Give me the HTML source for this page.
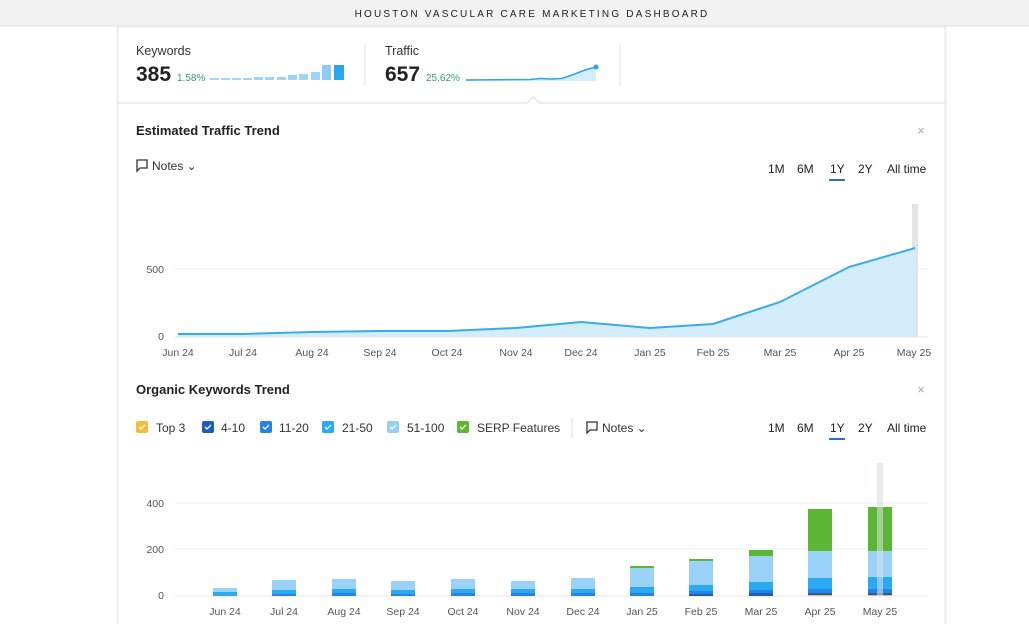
<!DOCTYPE html>
<html><head><meta charset="utf-8"><style>
html,body{margin:0;padding:0;background:#fff;width:1029px;height:624px;overflow:hidden;font-family:"Liberation Sans",sans-serif}
</style></head><body>
<svg width="1029" height="624" xmlns="http://www.w3.org/2000/svg" font-family="Liberation Sans, sans-serif">
<rect x="0" y="0" width="1029" height="26" fill="#f2f2f2"/>
<line x1="0" y1="26" x2="1029" y2="26" stroke="#e2e2e2"/>
<text x="532" y="17" text-anchor="middle" font-size="10" letter-spacing="2.2" fill="#222">HOUSTON VASCULAR CARE MARKETING DASHBOARD</text>
<rect x="116" y="27" width="2" height="600" fill="#f4f4f4"/>
<rect x="945" y="27" width="2" height="600" fill="#f4f4f4"/>
<rect x="118" y="27" width="827" height="610" fill="#fff" stroke="#e8e8e8"/>
<!-- summary -->
<text x="136" y="55" font-size="12.5" fill="#333">Keywords</text>
<text x="136" y="81" font-size="21" font-weight="bold" fill="#222">385</text>
<text x="177" y="81" font-size="10" fill="#3a9a6a">1.58%</text>
<g fill="#9fd3f7">
<rect x="210" y="78" width="9" height="2"/><rect x="221" y="78" width="9" height="2"/><rect x="232" y="78" width="9" height="2"/><rect x="243" y="78" width="9" height="2"/><rect x="254" y="77" width="9" height="3"/><rect x="265" y="77" width="9" height="3"/><rect x="277" y="77" width="9" height="3"/><rect x="288" y="75" width="9" height="5"/><rect x="299" y="74" width="9" height="6"/><rect x="311" y="72" width="9" height="8"/><rect x="322" y="65" width="9" height="15" fill="#8dcaf5"/></g>
<rect x="334" y="65" width="10" height="15" fill="#2aa5ee"/>
<line x1="365" y1="43" x2="365" y2="86" stroke="#e2e2e2"/>
<text x="385" y="55" font-size="12.5" fill="#333">Traffic</text>
<text x="385" y="81" font-size="21" font-weight="bold" fill="#222">657</text>
<text x="426" y="81" font-size="10" fill="#3a9a6a">25.62%</text>
<path d="M466 80 L530 79.5 L540 78.5 L550 79 L562 78.5 L572 75 L585 70 L596 67 L596 81 L466 81Z" fill="#d6eefc"/>
<path d="M466 80 L530 79.5 L540 78.5 L550 79 L562 78.5 L572 75 L585 70 L596 67" fill="none" stroke="#2aa5ee" stroke-width="1.5"/>
<circle cx="596" cy="67" r="2.5" fill="#2aa5ee"/>
<line x1="620" y1="43" x2="620" y2="86" stroke="#e2e2e2"/>
<path d="M118 103 L527 103 L533 97 L539 103 L945 103" fill="none" stroke="#ddd"/>
<!-- traffic -->
<text x="136" y="135" font-size="13" font-weight="bold" fill="#222">Estimated Traffic Trend</text>
<text x="921" y="135" font-size="13" fill="#aaa" text-anchor="middle">×</text>
<path d="M137 160 h10 v8 h-7 l-3 3 z" fill="none" stroke="#333" stroke-width="1.3"/>
<text x="152" y="170" font-size="12" fill="#333">Notes ⌄</text>
<g font-size="12" fill="#222"><text x="768" y="173">1M</text><text x="797" y="173">6M</text><text x="830" y="173">1Y</text><text x="858" y="173">2Y</text><text x="887" y="173">All time</text></g>
<rect x="829" y="179" width="16" height="2" fill="#2a6fc7"/>
<line x1="175" y1="269" x2="928" y2="269" stroke="#eee"/>
<line x1="175" y1="337" x2="928" y2="337" stroke="#e4e4e4"/>
<text x="164" y="273" font-size="10.5" fill="#555" text-anchor="end">500</text>
<text x="164" y="340" font-size="10.5" fill="#555" text-anchor="end">0</text>
<rect x="912" y="204" width="6" height="133" fill="#e2e4e8"/>
<path d="M178 334 L243 334 L312 332 L380 331 L447 331 L516 328 L581 322 L650 328 L713 324 L780 302 L849 267 L915 248 L915 337 L178 337Z" fill="#d3edfc"/>
<path d="M178 334 L243 334 L312 332 L380 331 L447 331 L516 328 L581 322 L650 328 L713 324 L780 302 L849 267 L915 248" fill="none" stroke="#3aaaf0" stroke-width="2"/>
<g font-size="10.5" fill="#555" text-anchor="middle"><text x="178" y="356">Jun 24</text><text x="243" y="356">Jul 24</text><text x="312" y="356">Aug 24</text><text x="380" y="356">Sep 24</text><text x="447" y="356">Oct 24</text><text x="516" y="356">Nov 24</text><text x="581" y="356">Dec 24</text><text x="650" y="356">Jan 25</text><text x="713" y="356">Feb 25</text><text x="780" y="356">Mar 25</text><text x="849" y="356">Apr 25</text><text x="914" y="356">May 25</text></g>
<!-- keywords -->
<text x="136" y="394" font-size="13" font-weight="bold" fill="#222">Organic Keywords Trend</text>
<text x="921" y="394" font-size="13" fill="#aaa" text-anchor="middle">×</text>
<g font-size="12" fill="#333">
<rect x="136" y="421" width="12" height="12" rx="2" fill="#f5bd3c"/><text x="156" y="432">Top 3</text>
<rect x="202" y="421" width="12" height="12" rx="2" fill="#1b5fb8"/><text x="221" y="432">4-10</text>
<rect x="260" y="421" width="12" height="12" rx="2" fill="#2684e8"/><text x="279" y="432">11-20</text>
<rect x="322" y="421" width="12" height="12" rx="2" fill="#2aaaf2"/><text x="342" y="432">21-50</text>
<rect x="387" y="421" width="12" height="12" rx="2" fill="#95cff8"/><text x="407" y="432">51-100</text>
<rect x="457" y="421" width="12" height="12" rx="2" fill="#5cb734"/><text x="477" y="432">SERP Features</text>
<g fill="none" stroke="#fff" stroke-width="1.3"><path d="M139 427 l2 2 l4 -4"/><path d="M205 427 l2 2 l4 -4"/><path d="M263 427 l2 2 l4 -4"/><path d="M325 427 l2 2 l4 -4"/><path d="M390 427 l2 2 l4 -4"/><path d="M460 427 l2 2 l4 -4"/></g>
<line x1="572" y1="418" x2="572" y2="438" stroke="#ddd"/>
<path d="M587 422 h10 v8 h-7 l-3 3 z" fill="none" stroke="#333" stroke-width="1.3"/>
<text x="602" y="432">Notes ⌄</text>
</g>
<g font-size="12" fill="#222"><text x="768" y="432">1M</text><text x="797" y="432">6M</text><text x="830" y="432">1Y</text><text x="858" y="432">2Y</text><text x="887" y="432">All time</text></g>
<rect x="829" y="438" width="16" height="2" fill="#2a6fc7"/>
<line x1="175" y1="503" x2="928" y2="503" stroke="#eee"/>
<line x1="175" y1="549" x2="928" y2="549" stroke="#eee"/>
<line x1="175" y1="596" x2="928" y2="596" stroke="#e4e4e4"/>
<g font-size="10.5" fill="#555" text-anchor="end"><text x="164" y="507">400</text><text x="164" y="553">200</text><text x="164" y="599">0</text></g>
<g id="bars">
<rect x="213" y="588" width="24" height="8" fill="#9bd2f9"/><rect x="213" y="592" width="24" height="4" fill="#2aaaf2"/>
<rect x="272" y="580" width="24" height="16" fill="#9bd2f9"/><rect x="272" y="590" width="24" height="6" fill="#2aaaf2"/><rect x="272" y="594" width="24" height="2" fill="#2684e8"/>
<rect x="332" y="579" width="24" height="17" fill="#9bd2f9"/><rect x="332" y="589" width="24" height="7" fill="#2aaaf2"/><rect x="332" y="593" width="24" height="3" fill="#2684e8"/>
<rect x="391" y="581" width="24" height="15" fill="#9bd2f9"/><rect x="391" y="590" width="24" height="6" fill="#2aaaf2"/><rect x="391" y="594" width="24" height="2" fill="#2684e8"/>
<rect x="451" y="579" width="24" height="17" fill="#9bd2f9"/><rect x="451" y="589" width="24" height="7" fill="#2aaaf2"/><rect x="451" y="593" width="24" height="3" fill="#2684e8"/>
<rect x="511" y="581" width="24" height="15" fill="#9bd2f9"/><rect x="511" y="589" width="24" height="7" fill="#2aaaf2"/><rect x="511" y="593" width="24" height="3" fill="#2684e8"/>
<rect x="571" y="578" width="24" height="18" fill="#9bd2f9"/><rect x="571" y="589" width="24" height="7" fill="#2aaaf2"/><rect x="571" y="593" width="24" height="3" fill="#2684e8"/>
<rect x="630" y="567" width="24" height="29" fill="#9bd2f9"/><rect x="630" y="566" width="24" height="2" fill="#5cb734"/><rect x="630" y="587" width="24" height="9" fill="#2aaaf2"/><rect x="630" y="593" width="24" height="3" fill="#2684e8"/>
<rect x="689" y="560" width="24" height="36" fill="#9bd2f9"/><rect x="689" y="559" width="24" height="2" fill="#5cb734"/><rect x="689" y="585" width="24" height="11" fill="#2aaaf2"/><rect x="689" y="591" width="24" height="5" fill="#2684e8"/><rect x="689" y="594" width="24" height="2" fill="#1b5fb8"/>
<rect x="749" y="550" width="24" height="46" fill="#5cb734"/><rect x="749" y="556" width="24" height="40" fill="#9bd2f9"/><rect x="749" y="582" width="24" height="14" fill="#2aaaf2"/><rect x="749" y="590" width="24" height="6" fill="#2684e8"/><rect x="749" y="593" width="24" height="3" fill="#1b5fb8"/>
<rect x="808" y="509" width="24" height="87" fill="#5cb734"/><rect x="808" y="551" width="24" height="45" fill="#9bd2f9"/><rect x="808" y="578" width="24" height="18" fill="#2aaaf2"/><rect x="808" y="589" width="24" height="7" fill="#2684e8"/><rect x="808" y="593" width="24" height="2" fill="#1b5fb8"/><rect x="808" y="595" width="24" height="1" fill="#f5bd3c"/>
<rect x="868" y="507" width="24" height="89" fill="#5cb734"/><rect x="868" y="551" width="24" height="45" fill="#9bd2f9"/><rect x="868" y="577" width="24" height="19" fill="#2aaaf2"/><rect x="868" y="589" width="24" height="7" fill="#2684e8"/><rect x="868" y="593" width="24" height="2" fill="#1b5fb8"/><rect x="868" y="595" width="24" height="1" fill="#f5bd3c"/>
</g>
<rect x="877" y="463" width="6" height="133" fill="#d8dce2" opacity="0.6"/>
<g font-size="10.5" fill="#555" text-anchor="middle"><text x="225" y="615">Jun 24</text><text x="284" y="615">Jul 24</text><text x="344" y="615">Aug 24</text><text x="403" y="615">Sep 24</text><text x="463" y="615">Oct 24</text><text x="523" y="615">Nov 24</text><text x="583" y="615">Dec 24</text><text x="642" y="615">Jan 25</text><text x="701" y="615">Feb 25</text><text x="761" y="615">Mar 25</text><text x="820" y="615">Apr 25</text><text x="880" y="615">May 25</text></g>
</svg>
</body></html>
